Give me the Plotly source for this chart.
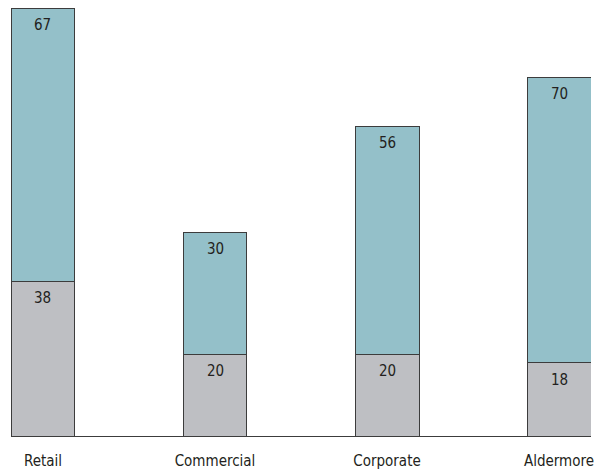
import plotly.graph_objects as go

categories = ["Retail", "Commercial", "Corporate", "Aldermore"]
lower_values = [38, 20, 20, 18]
upper_values = [67, 30, 56, 70]

font_family = "Liberation Sans Narrow, DejaVu Sans Condensed, Roboto, sans-serif"
text_color = "#231F20"

fig = go.Figure()
fig.add_trace(go.Bar(
    x=categories, y=lower_values, name="lower",
    marker=dict(color="#BEBFC3", line=dict(color="#3C3C3C", width=1)),
    width=0.372, hoverinfo="x+y",
))
fig.add_trace(go.Bar(
    x=categories, y=upper_values, name="upper",
    marker=dict(color="#94C0C9", line=dict(color="#3C3C3C", width=1)),
    width=0.372, hoverinfo="x+y",
))

# value labels placed just below the top of each segment
for cat, lo, up in zip(categories, lower_values, upper_values):
    for top, val in ((lo, lo), (lo + up, up)):
        fig.add_annotation(
            x=cat, y=top, text=str(val), showarrow=False,
            yanchor="top", yshift=-6,
            font=dict(family=font_family, size=15, color=text_color),
        )

fig.update_layout(
    barmode="stack",
    width=594, height=471,
    margin=dict(l=11, r=3, t=8, b=35, autoexpand=False),
    paper_bgcolor="white", plot_bgcolor="white",
    showlegend=False,
    font=dict(family=font_family, size=15, color=text_color),
)
fig.update_xaxes(
    range=[-0.186, 3.186], automargin=False,
    showline=True, linecolor="#3C3C3C", linewidth=1,
    showgrid=False, ticks="", ticklabelstandoff=11,
    tickfont=dict(family=font_family, size=15, color=text_color),
)
fig.update_yaxes(
    range=[0, 105], visible=False, showgrid=False, automargin=False,
)

fig.write_html("out.html")
